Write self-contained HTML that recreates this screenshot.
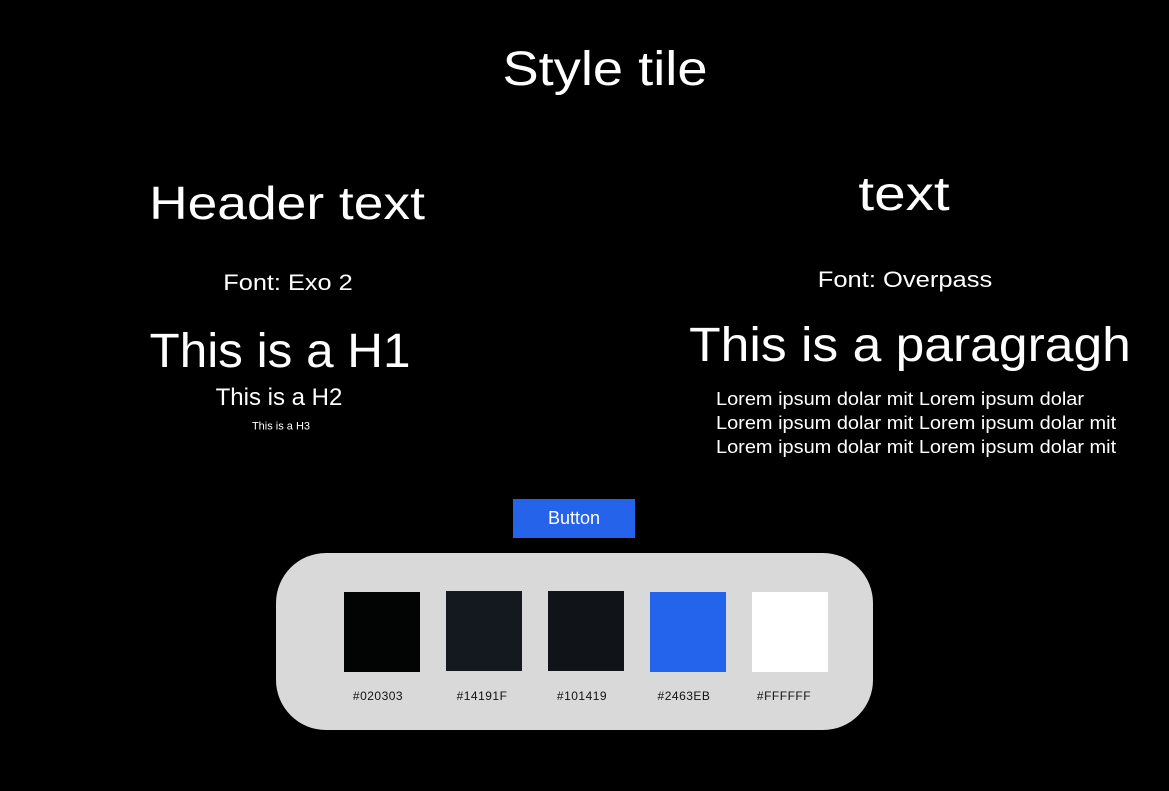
<!DOCTYPE html>
<html><head><meta charset="utf-8"><style>
body{margin:0;width:1169px;height:791px;background:#000;position:relative;overflow:hidden;font-family:"Liberation Sans",sans-serif;color:#fff}
.t{position:absolute;white-space:nowrap;line-height:1}
.l{position:absolute;white-space:nowrap;left:716px;font-size:18px;line-height:1;transform-origin:0 0;transform:scaleX(1.108)}
.sw{position:absolute;width:76px;height:80px}
.lab{position:absolute;color:#111;font-size:12px;transform:translateX(-50%);top:689px;letter-spacing:0.5px}
</style></head><body>
<div class="t" style="left:605px;top:70px;font-size:48px;transform:translate(-50%,-50%) scaleX(1.13)">Style tile</div>
<div class="t" style="left:287px;top:203px;font-size:46px;transform:translate(-50%,-50%) scaleX(1.16)">Header text</div>
<div class="t" style="left:288px;top:283px;font-size:22px;transform:translate(-50%,-50%) scaleX(1.15)">Font: Exo 2</div>
<div class="t" style="left:280px;top:352px;font-size:48px;transform:translate(-50%,-50%) scaleX(1.03)">This is a H1</div>
<div class="t" style="left:279px;top:398px;font-size:24px;transform:translate(-50%,-50%)">This is a H2</div>
<div class="t" style="left:281px;top:427px;font-size:11px;transform:translate(-50%,-50%)">This is a H3</div>
<div class="t" style="left:904px;top:195px;font-size:48px;transform:translate(-50%,-50%) scaleX(1.18)">text</div>
<div class="t" style="left:905px;top:280px;font-size:22px;transform:translate(-50%,-50%) scaleX(1.16)">Font: Overpass</div>
<div class="t" style="left:910px;top:346px;font-size:48px;transform:translate(-50%,-50%) scaleX(1.075)">This is a paragragh</div>
<div class="l" style="top:390px">Lorem ipsum dolar mit Lorem ipsum dolar</div>
<div class="l" style="top:414px">Lorem ipsum dolar mit Lorem ipsum dolar mit</div>
<div class="l" style="top:438px">Lorem ipsum dolar mit Lorem ipsum dolar mit</div>
<div style="position:absolute;left:513px;top:499px;width:122px;height:39px;background:#2563EB;display:flex;align-items:center;justify-content:center;font-size:18px">Button</div>
<div style="position:absolute;left:276px;top:553px;width:597px;height:177px;background:#D9D9D9;border-radius:50px"></div>
<div class="sw" style="left:344px;top:592px;background:#020303"></div>
<div class="sw" style="left:446px;top:591px;background:#14191F"></div>
<div class="sw" style="left:548px;top:591px;background:#101419"></div>
<div class="sw" style="left:650px;top:592px;background:#2463EB"></div>
<div class="sw" style="left:752px;top:592px;background:#FFFFFF"></div>
<div class="lab" style="left:378px">#020303</div>
<div class="lab" style="left:482px">#14191F</div>
<div class="lab" style="left:582px">#101419</div>
<div class="lab" style="left:684px">#2463EB</div>
<div class="lab" style="left:784px">#FFFFFF</div>
</body></html>
